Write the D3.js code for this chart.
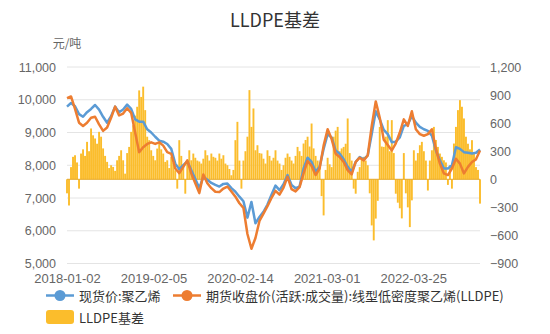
<!DOCTYPE html>
<html><head><meta charset="utf-8">
<script src="https://cdn.jsdelivr.net/npm/d3@7"></script>
<style>
body{margin:0;background:#fff;}
svg{display:block;font-family:"Noto Sans CJK SC","Noto Sans",sans-serif;}
</style>
</head><body>
<svg id="chart" width="550" height="334"></svg>
<script>
const title = "LLDPE基差";
const unitLabel = "元/吨";
const xTickLabels = ["2018-01-02", "2019-02-05", "2020-02-14", "2021-03-01", "2022-03-25"];
const xTickDay = [0, 259, 518, 777, 1036];
const leftTicks = [5000, 6000, 7000, 8000, 9000, 10000, 11000];
const rightTicks = [-900, -600, -300, 0, 300, 600, 900, 1200];
const seriesNames = ["现货价:聚乙烯", "期货收盘价(活跃:成交量):线型低密度聚乙烯(LLDPE)", "LLDPE基差"];
const lineStepDays = 12;
const barStepDays = 6;

const spotPrice = [9790,9900,9800,9560,9480,9620,9720,9840,9700,9480,9300,9500,9790,9620,9700,9850,9720,9400,9330,9330,
9100,9000,8870,8750,8720,8650,8500,8050,7880,8000,8120,7850,7580,7300,7650,7560,7460,7400,7350,7430,
7440,7300,7190,7040,6900,6400,6880,6230,6420,6580,6800,7100,7380,7240,7420,7700,7400,7300,7350,7900,
8230,8100,7800,7950,8500,8950,8850,8450,8350,8180,7950,7800,8100,8250,8180,8300,8950,9650,9400,9080,
8950,8700,8720,8850,9200,9250,9500,9300,9170,9100,9050,8900,8450,8150,7900,7900,8000,8550,8500,8400,
8380,8360,8380,8480];

const futuresPrice = [10050,10100,9720,9300,9200,9300,9450,9480,9250,9050,9150,9450,9790,9520,9580,9740,9600,9000,8400,8550,
8650,8700,8650,8700,8600,8400,8350,7900,7760,7950,8150,7750,7450,7150,7720,7450,7300,7190,7180,7290,
7350,7200,7040,6840,6700,5900,5450,5780,6300,6520,6750,7000,7220,7100,7320,7650,7270,7200,7330,7750,
8130,7980,7700,7900,8600,9100,8800,8350,8250,8100,7850,7720,8100,8230,8150,8300,9200,9950,9450,8780,
8620,8450,8670,9000,9400,9200,9650,9100,8950,8900,8950,9100,8500,8050,7750,7700,7900,8200,8050,7750,
7950,8100,8180,8450];

const basis = [-150,-280,130,240,257,180,-100,275,320,250,400,300,543,470,436,380,507,455,330,250,
186,120,150,132,90,203,250,310,203,60,280,346,507,578,680,775,950,880,990,739,
455,418,310,250,203,328,382,320,275,186,203,120,239,180,96,-100,418,250,132,-154,
200,310,203,275,230,200,190,168,220,310,257,200,275,240,230,200,275,220,257,168,
150,110,43,100,418,614,200,-100,200,300,455,953,560,757,310,364,280,275,220,168,
310,250,200,230,310,200,168,100,150,230,275,240,200,168,250,346,300,250,382,420,
455,350,596,330,250,200,120,-180,-386,100,230,160,130,455,520,560,300,330,346,380,
650,280,200,-100,-154,80,130,220,240,200,150,-150,-493,-653,-420,-230,560,350,346,455,
632,300,632,280,-154,-250,-310,-418,280,-150,-300,-511,-225,310,200,280,364,400,300,200,
-120,200,310,560,420,346,275,240,203,180,-60,150,-100,382,560,739,846,775,650,455,
380,320,418,275,130,100,-260];

const blue = "#5b9bd5", orange = "#ed7d31", gold = "#fbbd2c";
const tickFont = "Liberation Sans, Arial, sans-serif";
const svg = d3.select("#chart");
const lastDay = (spotPrice.length - 1) * lineStepDays;
const x = d3.scaleLinear().domain([0, lastDay]).range([67, 480]);
const yL = d3.scaleLinear().domain([5000, 11000]).range([263.5, 67]);
const yR = d3.scaleLinear().domain([-900, 1200]).range([263.5, 67]);

// title
svg.append("text").attr("x", 275).attr("y", 27).attr("text-anchor", "middle")
  .attr("font-size", 18).attr("fill", "#333").text(title);
svg.append("text").attr("x", 67).attr("y", 48).attr("text-anchor", "middle")
  .attr("font-size", 12).attr("fill", "#666").text(unitLabel);

// grid
svg.append("g").selectAll("line").data(leftTicks).join("line")
  .attr("x1", 67).attr("x2", 480).attr("y1", d => yL(d)).attr("y2", d => yL(d))
  .attr("stroke", "#e4e4e4").attr("stroke-width", 1);

// left axis
const fmt = d3.format(",");
const gL = svg.append("g").attr("transform", "translate(59,0)")
  .call(d3.axisLeft(yL).tickValues(leftTicks).tickFormat(fmt).tickSize(0));
gL.select(".domain").remove();
gL.selectAll("text").attr("font-size", 12.5).attr("fill", "#666").attr("font-family", tickFont);

// right axis
const gR = svg.append("g").attr("transform", "translate(487,0)")
  .call(d3.axisRight(yR).tickValues(rightTicks).tickFormat(fmt).tickSize(0));
gR.select(".domain").remove();
gR.selectAll("text").attr("font-size", 12.5).attr("fill", "#666").attr("font-family", tickFont);

// x axis labels
const gX = svg.append("g").attr("transform", "translate(0,274)")
  .call(d3.axisBottom(x).tickValues(xTickDay).tickFormat((d, i) => xTickLabels[i]).tickSize(0).tickPadding(0));
gX.select(".domain").remove();
gX.selectAll("text").attr("font-size", 13).attr("fill", "#666").attr("font-family", tickFont);

// bars
const bw = (x(barStepDays) - x(0)) * 0.95;
svg.append("g").selectAll("rect").data(basis).join("rect")
  .attr("x", (d, i) => x(i * barStepDays) - bw / 2)
  .attr("width", bw)
  .attr("y", d => yR(Math.max(0, d)))
  .attr("height", d => Math.abs(yR(d) - yR(0)))
  .attr("fill", gold);
svg.append("line").attr("x1", 67).attr("x2", 480).attr("y1", yR(0)).attr("y2", yR(0))
  .attr("stroke", "#e5a92a").attr("stroke-width", 1);

// lines
const lineL = d3.line().x((d, i) => x(i * lineStepDays)).y(d => yL(d));
svg.append("path").datum(spotPrice).attr("d", lineL).attr("fill", "none")
  .attr("stroke", blue).attr("stroke-width", 2.5).attr("stroke-linejoin", "round");
svg.append("path").datum(futuresPrice).attr("d", lineL).attr("fill", "none")
  .attr("stroke", orange).attr("stroke-width", 2.5).attr("stroke-linejoin", "round");

// legend
const lg = svg.append("g").attr("font-size", 13).attr("fill", "#333");
function lineIcon(cx, cy, color) {
  lg.append("line").attr("x1", cx - 14).attr("x2", cx + 14).attr("y1", cy).attr("y2", cy)
    .attr("stroke", color).attr("stroke-width", 2.5);
  lg.append("circle").attr("cx", cx).attr("cy", cy).attr("r", 5.5).attr("fill", color);
}
lineIcon(60, 295.5, blue);
lg.append("text").attr("x", 79).attr("y", 301).text(seriesNames[0]);
lineIcon(187, 295.5, orange);
lg.append("text").attr("x", 206).attr("y", 301).text(seriesNames[1]);
lg.append("rect").attr("x", 46).attr("y", 310).attr("width", 28).attr("height", 14).attr("rx", 3).attr("fill", gold);
lg.append("text").attr("x", 79).attr("y", 322.5).text(seriesNames[2]);
</script>
</body></html>
